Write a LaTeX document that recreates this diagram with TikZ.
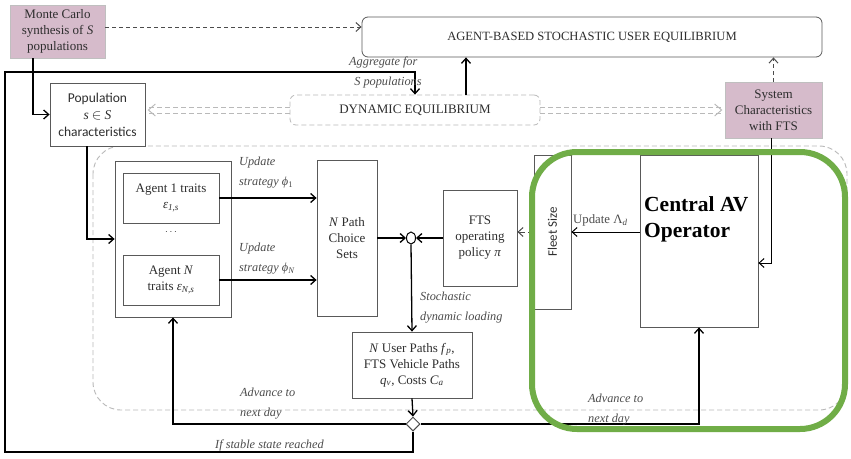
\documentclass[tikz,border=0pt]{standalone}
\usepackage{fontspec}
\setmainfont{Liberation Serif}
\setsansfont{Carlito}
\usetikzlibrary{arrows.meta,shapes.geometric}
\definecolor{pinkc}{HTML}{D6BBCB}
\definecolor{greenc}{HTML}{70AD47}
\definecolor{txt}{HTML}{2E2E2E}
\newcommand{\mi}[1]{\textit{#1}}
\newcommand{\sbi}[1]{\textsubscript{\textit{#1}}}
\begin{document}
\begin{tikzpicture}[x=1pt,y=-1pt,
  box/.style={draw=black!65, line width=0.8pt, fill=white, inner sep=1pt, align=center, text=txt,
    font=\fontsize{13}{16}\selectfont},
  pinkbox/.style={box, fill=pinkc, draw=black!25},
  arr/.style={line width=1.3pt, -{Straight Barb[length=5pt,width=9pt]}},
  dasharr/.style={line width=1pt, black!70, dash pattern=on 4pt off 3pt, -{Straight Barb[length=5pt,width=9pt]}},
  gdash/.style={gray!55, line width=0.9pt, dash pattern=on 5pt off 3pt},
  lbl/.style={font=\fontsize{12.3}{19.5}\selectfont\itshape, align=left, text=black!70, inner sep=0pt}
]
\useasboundingbox (0,0) rectangle (851,458);
\fill[white] (0,0) rectangle (851,458);

% dashed region
\draw[gdash, rounded corners=28pt] (93,146) rectangle (847,410);

% nodes
\node[pinkbox, minimum width=95pt, minimum height=53pt] (mc) at (57.5,31.5) {Monte Carlo\\synthesis of \mi{S}\\populations};
\node[box, rounded corners=6pt, minimum width=460pt, minimum height=40pt] (absue) at (592,37)
  {\fontsize{12.6}{14}\selectfont AGENT-BASED STOCHASTIC USER EQUILIBRIUM};
\node[box, draw=gray!55, dash pattern=on 5pt off 3pt, rounded corners=6pt, minimum width=250pt, minimum height=30pt] (dyn) at (415,110)
  {DYNAMIC EQUILIBRIUM};
\node[box, font=\sffamily\fontsize{13.5}{17}\selectfont, minimum width=95pt, minimum height=63pt] (pop) at (97.5,114.5)
  {Population\\{\rmfamily\itshape s} $\in$ {\rmfamily\itshape S}\\characteristics};
\node[pinkbox, minimum width=97pt, minimum height=56pt] (sys) at (773.5,110) {System\\Characteristics\\with FTS};
\node[box, minimum width=116pt, minimum height=156pt] (agents) at (173,239) {};
\node[box, minimum width=96pt, minimum height=50pt] (a1) at (171,198) {Agent 1 traits\\\mi{ε}\sbi{1,s}};
\node[box, minimum width=96pt, minimum height=50pt] (aN) at (171,280) {Agent \mi{N}\\traits \mi{ε}\sbi{N,s}};
\node[text=txt] (dots) at (171,232) {$\cdots$};
\node[box, minimum width=60pt, minimum height=156pt] (pcs) at (347,238) {\mi{N} Path\\Choice\\Sets};
\node[draw=black, line width=1pt, fill=white, ellipse, inner sep=0pt, minimum width=9pt, minimum height=12pt] (j) at (411,238) {};
\node[box, minimum width=74pt, minimum height=96pt] (fts) at (480,238) {FTS\\operating\\policy \mi{π}};
\node[box, minimum width=37pt, minimum height=154pt] (fleet) at (552.5,232) {};
\node[rotate=90, font=\sffamily\fontsize{13}{15}\selectfont, text=txt] (fleettxt) at (fleet.center) {Fleet Size};
\node[box, minimum width=118pt, minimum height=172pt] (cav) at (699,241) {};
\node[anchor=north west, align=left, inner sep=0pt, font=\bfseries\fontsize{21.5}{26}\selectfont] (cavtxt) at (644,196) {Central AV\\Operator};
\node[box, minimum width=120pt, minimum height=66pt] (up) at (412,365) {\mi{N} User Paths \mi{f}\sbi{p},\\FTS Vehicle Paths\\\mi{q}\sbi{v}, Costs \mi{C}\sbi{a}};
\node[draw=black!70, line width=1pt, fill=white, diamond, inner sep=0pt, minimum width=14pt, minimum height=14pt] (dia) at (413,424) {};

% coordinates
\coordinate (bl) at (5,452);
\coordinate (tl) at (5,72);
\coordinate (x466) at (466,0);

% connectors
\draw[dasharr] ([yshift=4.5pt]mc.east) -- ([yshift=4.5pt]mc.east -| absue.west);
\draw[arr] ([xshift=-24.5pt]mc.south) |- (pop.west);
\draw[arr] (dyn.north -| x466) -- (absue.south -| x466);
\draw[dasharr] (sys.north) -- (sys.north |- absue.south);
\draw[arr] (dia.south) |- (bl) -- (tl) -| (dyn.north);
\node[lbl, anchor=north west] (agg) at (349,57) {Aggregate for\\\ \,S populations};

% grey double dashed arrows
\draw[gdash] ([yshift=3pt]dyn.west) -- ([yshift=3pt,xshift=4pt]dyn.west -| pop.east);
\draw[gdash] ([yshift=-3pt]dyn.west) -- ([yshift=-3pt,xshift=4pt]dyn.west -| pop.east);
\draw[gray!55, line width=0.9pt] ([xshift=10pt,yshift=6pt]dyn.west -| pop.east) -- ([xshift=3pt]dyn.west -| pop.east) -- ([xshift=10pt,yshift=-6pt]dyn.west -| pop.east);
\draw[gdash] ([yshift=3pt]dyn.east) -- ([yshift=3pt,xshift=-4pt]dyn.east -| sys.west);
\draw[gdash] ([yshift=-3pt]dyn.east) -- ([yshift=-3pt,xshift=-4pt]dyn.east -| sys.west);
\draw[gray!55, line width=0.9pt] ([xshift=-10pt,yshift=6pt]dyn.east -| sys.west) -- ([xshift=-3pt]dyn.east -| sys.west) -- ([xshift=-10pt,yshift=-6pt]dyn.east -| sys.west);

\draw[arr] ([xshift=-10.5pt]pop.south) |- (agents.west);
\draw[arr] (a1.east) -- (a1.east -| pcs.west);
\draw[arr] (aN.east) -- (aN.east -| pcs.west);
\node[lbl, anchor=north west] (u1) at (239,157) {Update\\strategy \textup{\mi{ϕ}}\textsubscript{\textup{1}}};
\node[lbl, anchor=north west] (uN) at (239,243) {Update\\strategy \mi{ϕ}\textsubscript{\mi{N}}};
\draw[arr] (pcs.east) -- (j.west);
\draw[arr] (fts.west) -- (j.east);
\draw[dasharr, dash pattern=on 6pt off 3pt] (fleet.west) -- (fleet.west -| fts.east);
\draw[arr, line width=1pt] (fleet.east -| cav.west) -- (fleet.east);
\node[anchor=base west, inner sep=0pt, font=\fontsize{12.8}{15}\selectfont, text=black!70] (uld) at (573,223) {Update Λ\sbi{d}};
\draw[arr, line width=1pt] ([xshift=-2.5pt]sys.south) |- ([yshift=-22pt]cav.east);
\draw[arr] (j.south) -- (up.north);
\node[lbl, anchor=north west] (stoch) at (420,292) {Stochastic\\dynamic loading};
\draw[arr] (up.south) -- (dia.north);
\draw[arr] (dia.west) -| (agents.south);
\draw[arr] (dia.east) -| (cav.south);
\node[lbl, anchor=north west] (adv1) at (240,388) {Advance to\\next day};
\node[lbl, anchor=north west] (adv2) at (588,394) {Advance to\\next day};
\node[lbl, anchor=base west] (stable) at (215,448) {If stable state reached};

% green highlight
\draw[greenc, line width=6pt, rounded corners=45pt] (532,152) rectangle (845,429);
\end{tikzpicture}
\end{document}
